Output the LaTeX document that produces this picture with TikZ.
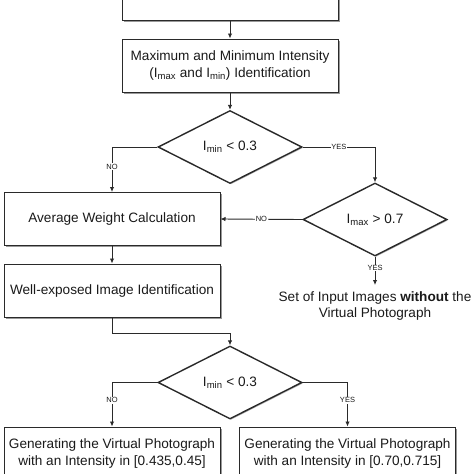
\documentclass[tikz,border=0pt]{standalone}
\usepackage{fontspec}
\setmainfont{Liberation Sans}
\usetikzlibrary{shapes.geometric,arrows.meta,shadows,calc}
\definecolor{ink}{HTML}{1A1A1A}
\definecolor{linec}{HTML}{2A2A2A}
\tikzset{
  procbox/.style={draw=linec, line width=1pt, fill=white, minimum width=216pt, minimum height=53pt,
    align=center, text=ink, font=\fontsize{13.6}{16.5}\selectfont,
    drop shadow={shadow xshift=1.5pt, shadow yshift=-1.5pt, fill=black, opacity=0.4}},
  decision/.style={diamond, draw=linec, line width=1.4pt, fill=white, minimum width=144pt, minimum height=73pt,
    inner sep=0pt, text=ink, font=\fontsize{13.6}{16.5}\selectfont,
    drop shadow={shadow xshift=1pt, shadow yshift=-1pt, fill=black, opacity=0.3}},
  conn/.style={draw=linec, line width=0.9pt, -{Latex[length=5pt,width=4.5pt]}},
  lbl/.style={fill=white, inner sep=0.8pt, text=ink, font=\fontsize{7.5}{8}\selectfont},
  plain/.style={align=center, text=ink, font=\fontsize{13.6}{16.5}\selectfont},
}
\begin{document}
\begin{tikzpicture}[x=1pt,y=-1pt]
\useasboundingbox (0,0) rectangle (474,474);
\clip (0,0) rectangle (474,474);
\node[procbox] (top) at (230,-6.5) {};
\node[procbox] (maxmin) at (230,65.5) {Maximum and Minimum Intensity\\(I\textsubscript{max} and I\textsubscript{min}) Identification};
\node[decision] (d1) at (230,147) {I\textsubscript{min} < 0.3};
\node[procbox] (avg) at (112,219) {Average Weight Calculation};
\node[decision] (d2) at (375,219.5) {I\textsubscript{max} > 0.7};
\coordinate (setend) at (375,285);
\node[plain, anchor=north] (set) at (375,288) {Set of Input Images \textbf{without} the\\Virtual Photograph};
\node[procbox] (well) at (112,290.5) {Well-exposed Image Identification};
\node[decision] (d3) at (230,382.5) {I\textsubscript{min} < 0.3};
\node[procbox] (gen1) at (112,453.5) {Generating the Virtual Photograph\\with an Intensity in [0.435,0.45]};
\node[procbox] (gen2) at (347.5,453.5) {Generating the Virtual Photograph\\with an Intensity in [0.70,0.715]};

\draw[conn] (top.south) -- (maxmin.north);
\draw[conn] (maxmin.south) -- (d1.north);
\draw[conn] (d1.west) -| node[lbl, pos=0.72] {NO} (avg.north);
\draw[conn] (d1.east) -| node[lbl, pos=0.25] {YES} (d2.north);
\draw[conn] (d2.west) -- node[lbl] {NO} (avg.east);
\draw[conn] (d2.south) -- node[lbl, pos=0.4] {YES} (setend);
\draw[conn] (avg.south) -- (well.north);
\draw[conn] (well.south) -- ++(0,16) -| (d3.north);
\draw[conn] (d3.west) -| node[lbl, pos=0.7] {NO} (gen1.north);
\draw[conn] (d3.east) -| node[lbl, pos=0.7] {YES} (gen2.north);
\end{tikzpicture}
\end{document}
